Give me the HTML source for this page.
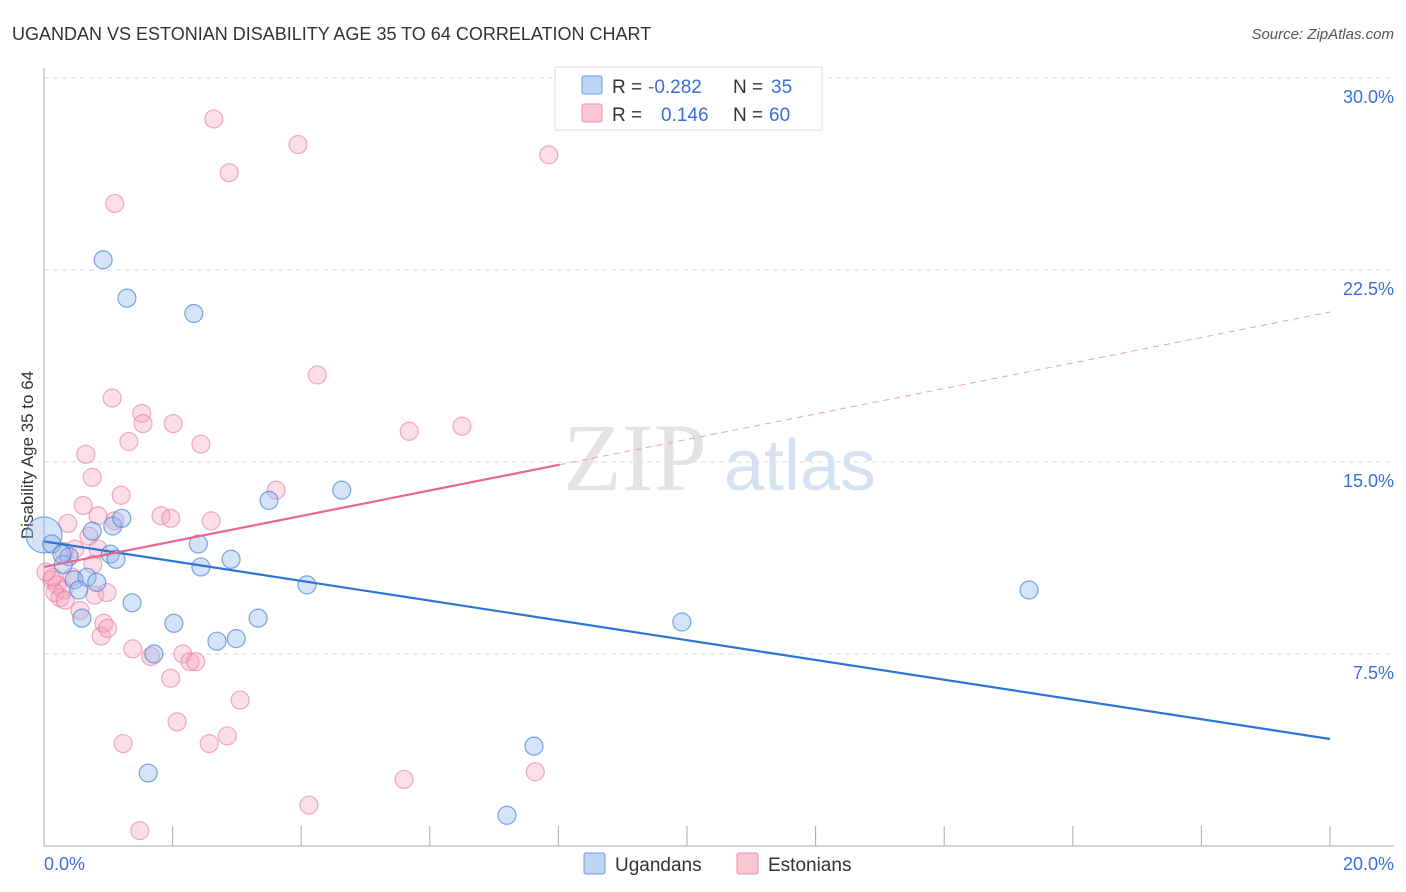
<!DOCTYPE html>
<html><head><meta charset="utf-8"><style>
body{margin:0;background:#fff;font-family:"Liberation Sans",sans-serif}
#wrap{position:relative;width:1406px;height:892px;overflow:hidden}
</style></head><body>
<div id="wrap">
<svg id="svg" width="1406" height="892" xmlns="http://www.w3.org/2000/svg">
<text x="12" y="40" font-size="18" fill="#333">UGANDAN VS ESTONIAN DISABILITY AGE 35 TO 64 CORRELATION CHART</text>
<text x="1394" y="39" font-size="15" fill="#555" font-style="italic" text-anchor="end">Source: ZipAtlas.com</text>
<text x="635" y="490" font-size="96" fill="#e3e3e3" font-family="Liberation Serif" text-anchor="middle">ZIP</text>
<text x="800" y="490" font-size="72" fill="#d5e2f3" text-anchor="middle">atlas</text>
<text transform="translate(33,455) rotate(-90)" font-size="17" fill="#333" text-anchor="middle">Disability Age 35 to 64</text>
<g id="grid"></g><g id="pts"></g><g id="lines"></g>
<g>
<rect x="555" y="67" width="267" height="63" fill="#fff" stroke="#ddd"/>
<rect x="582" y="76" width="20" height="18" fill="#bcd4f5" stroke="#6b9de0" rx="2"/>
<rect x="582" y="104" width="20" height="18" fill="#f9c6d4" stroke="#ee8fab" rx="2"/>
<text x="612" y="93" font-size="19" fill="#333">R =</text>
<text x="648" y="93" font-size="19" fill="#3a6fd8">-0.282</text>
<text x="733" y="93" font-size="19" fill="#333">N =</text>
<text x="771" y="93" font-size="19" fill="#3a6fd8">35</text>
<text x="612" y="121" font-size="19" fill="#333">R =</text>
<text x="661" y="121" font-size="19" fill="#3a6fd8">0.146</text>
<text x="733" y="121" font-size="19" fill="#333">N =</text>
<text x="769" y="121" font-size="19" fill="#3a6fd8">60</text>
</g>
<g>
<rect x="584" y="853" width="21" height="21" fill="#bcd4f5" stroke="#6b9de0" rx="2"/>
<text x="615" y="871" font-size="19" fill="#333">Ugandans</text>
<rect x="737" y="853" width="21" height="21" fill="#f9c6d4" stroke="#ee8fab" rx="2"/>
<text x="768" y="871" font-size="19" fill="#333">Estonians</text>
</g>
</svg></div>
<script>
const yTicks=[7.5,15,22.5,30];
const yTickLabels=["7.5%","15.0%","22.5%","30.0%"];
const xTicks=[0,2,4,6,8,10,12,14,16,18,20];
const ugX=[0.92,1.29,2.33,0,0.12,0.75,1.07,1.21,0.39,1.03,1.12,0.3,0.47,0.67,0.82,0.54,0.59,1.37,2.02,1.71,2.40,2.44,2.91,2.69,2.99,3.33,3.50,4.63,4.09,9.92,7.62,1.62,7.2,15.32,0.28];
const ugY=[22.9,21.4,20.8,12.15,11.8,12.3,12.5,12.8,11.3,11.4,11.2,11.0,10.4,10.5,10.3,10.0,8.9,9.5,8.7,7.5,11.8,10.9,11.2,8.0,8.1,8.9,13.5,13.9,10.2,8.75,3.9,2.85,1.2,10.0,11.4];
const esX=[2.64,3.95,7.85,2.88,1.1,4.25,1.06,1.52,1.54,2.01,1.32,2.44,5.68,6.5,0.65,0.75,1.2,3.61,0.61,0.37,1.82,1.97,2.6,0.84,0.7,1.1,0.48,0.84,0.31,0.12,0.2,0.3,0.17,0.25,0.33,0.79,0.98,0.76,0.56,0.93,0.89,0.99,1.38,1.66,2.16,2.27,2.36,1.97,3.05,2.07,1.23,2.57,2.85,5.6,7.64,4.12,1.49,0.14,0.44,0.03];
const esY=[28.4,27.4,27.0,26.3,25.1,18.4,17.5,16.9,16.5,16.5,15.8,15.7,16.2,16.4,15.3,14.4,13.7,13.9,13.3,12.6,12.9,12.8,12.7,12.9,12.1,12.7,11.6,11.6,11.5,10.4,10.2,10.0,9.9,9.7,9.6,9.8,9.9,11.0,9.2,8.7,8.2,8.5,7.7,7.4,7.5,7.2,7.2,6.55,5.7,4.85,4.0,4.0,4.3,2.6,2.9,1.6,0.6,10.5,10.5,10.7];
const ugTrend=[11.9,4.18];
const esTrend=[10.9,20.86];
const esSolidEnd=8.02;
const X=v=>44+v*64.3, Y=v=>846-v*25.6;
const NS="http://www.w3.org/2000/svg";
function mk(tag,attrs,parent){const e=document.createElementNS(NS,tag);for(const k in attrs)e.setAttribute(k,attrs[k]);document.getElementById(parent).appendChild(e);return e;}
yTicks.forEach((t,i)=>{
 const l=mk('line',{x1:44,x2:1394,y1:Y(t),y2:Y(t),stroke:'#ddd','stroke-dasharray':'5,4'},'grid');
 
 
 const tx=mk('text',{x:1394,y:Y(t)+25,'font-size':18,fill:'#3a6fd8','text-anchor':'end'},'grid');
 tx.textContent=yTickLabels[i];
 
 
});
const ax=mk('line',{x1:44,x2:44,y1:68,y2:846,stroke:'#aaa'},'grid');


const bx=mk('line',{x1:44,x2:1394,y1:846,y2:846,stroke:'#aaa'},'grid');


xTicks.forEach(t=>{const l=mk('line',{x1:X(t),x2:X(t),y1:826,y2:846,stroke:'#aaa'},'grid');
 
 });
[[0,"0.0%",'start',44],[20,"20.0%",'end',1394]].forEach(a=>{const t=mk('text',{x:a[3],y:870,'font-size':18,fill:'#3a6fd8','text-anchor':a[2]},'grid');t.textContent=a[1];
 
 });
esX.forEach((x,i)=>{const c=mk('circle',{cx:X(x),cy:Y(esY[i]),r:9,fill:'rgba(244,160,185,0.35)',stroke:'rgba(232,120,155,0.6)','stroke-width':1.2},'pts');
 
 });
ugX.forEach((x,i)=>{const c=mk('circle',{cx:X(x),cy:Y(ugY[i]),r:i==3?18:9,fill:'rgba(150,185,235,0.4)',stroke:'rgba(70,130,220,0.7)','stroke-width':1.2},'pts');
 
 });
const bl=mk('line',{x1:X(0),y1:Y(ugTrend[0]),x2:X(20),y2:Y(ugTrend[1]),stroke:'#2f74d8','stroke-width':2.2},'lines');


const ev=x=>esTrend[0]+(esTrend[1]-esTrend[0])*x/20;
const pl=mk('line',{x1:X(0),y1:Y(ev(0)),x2:X(esSolidEnd),y2:Y(ev(esSolidEnd)),stroke:'#e8668f','stroke-width':2.2},'lines');


const pd=mk('line',{x1:X(esSolidEnd),y1:Y(ev(esSolidEnd)),x2:X(20),y2:Y(ev(20)),stroke:'#e8a0b5','stroke-width':1,'stroke-dasharray':'6,5'},'lines');


</script></body></html>
